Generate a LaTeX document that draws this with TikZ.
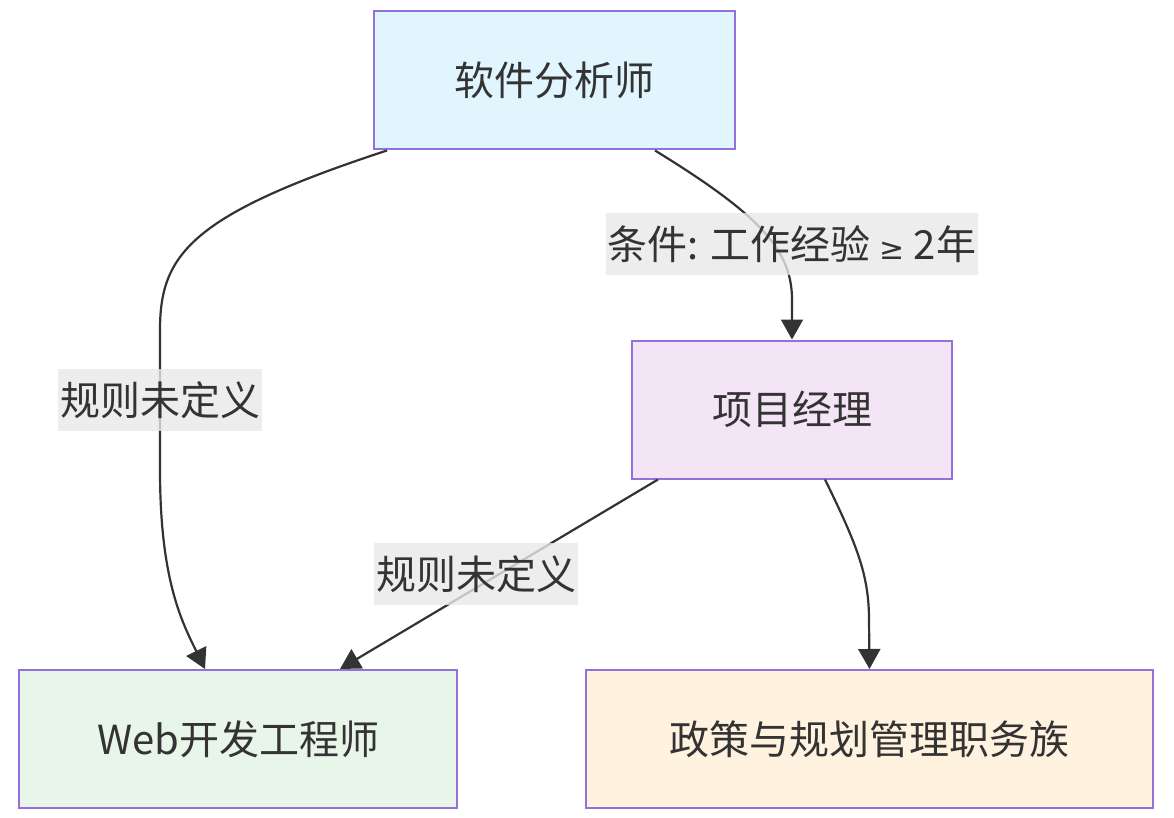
\documentclass[tikz,border=0pt]{standalone}
\usepackage{fontspec}
\setmainfont{Noto Sans CJK SC}
\newfontfamily\mathsym{DejaVu Sans}
\usepackage{tikz}
\usetikzlibrary{arrows.meta}

\definecolor{txt}{HTML}{333333}
\definecolor{rim}{HTML}{9370DB}
\definecolor{lblbg}{HTML}{E8E8E8}
\definecolor{bluefill}{HTML}{E1F5FE}
\definecolor{lilacfill}{HTML}{F3E5F5}
\definecolor{greenfill}{HTML}{E8F5E9}
\definecolor{orangefill}{HTML}{FFF3E0}

\begin{document}
\begin{tikzpicture}[x=1pt, y=-1pt, font=\fontsize{40}{48}\selectfont, text=txt]
                \useasboundingbox (0,0) rectangle (1174,818);
                \begin{scope}[every node/.style={draw=rim, line width=2pt, rectangle, minimum height=138pt, inner sep=0}]
                        \node[fill=bluefill, minimum width=361pt] (Ana) at (554.5,80.5) {软件分析师};
                        \node[fill=lilacfill, minimum width=320pt] (PM) at (792,409.5) {项目经理};
                        \node[fill=greenfill, minimum width=438pt] (Web) at (238,739) {Web开发工程师};
                        \node[fill=orangefill, minimum width=567pt] (Pol) at (869.5,739) {政策与规划管理职务族};
                \end{scope}
                \begin{scope}[every node/.style={fill=lblbg, fill opacity=0.8, text opacity=1, inner sep=2pt, minimum height=62pt},
                              every path/.style={draw=txt, line width=2.2pt, -{Triangle[length=20pt, width=22pt]}}]
                        \draw ([xshift=-167.5]Ana.south) .. controls (190,215) and (160,255) .. (160,330)
                                -- node {规则未定义} (160,470) .. controls (160,580) and (182,622) .. ([xshift=-33]Web.north);
                        \draw ([xshift=100.5]Ana.south) .. controls (760,215) and (792,250) .. node[pos=0.6, xshift=18] {条件: 工作经验 {\mathsym\fontsize{30}{36}\selectfont ≥} 2年} (792,300) -- (PM.north);
                        \draw ([xshift=-134]PM.south) -- node[xshift=-23] {规则未定义} ([xshift=102]Web.north);
                        \draw ([xshift=33]PM.south) .. controls (857,545) and (869,575) .. (869,620) -- (Pol.north);
                \end{scope}
        \end{tikzpicture}
\end{document}
